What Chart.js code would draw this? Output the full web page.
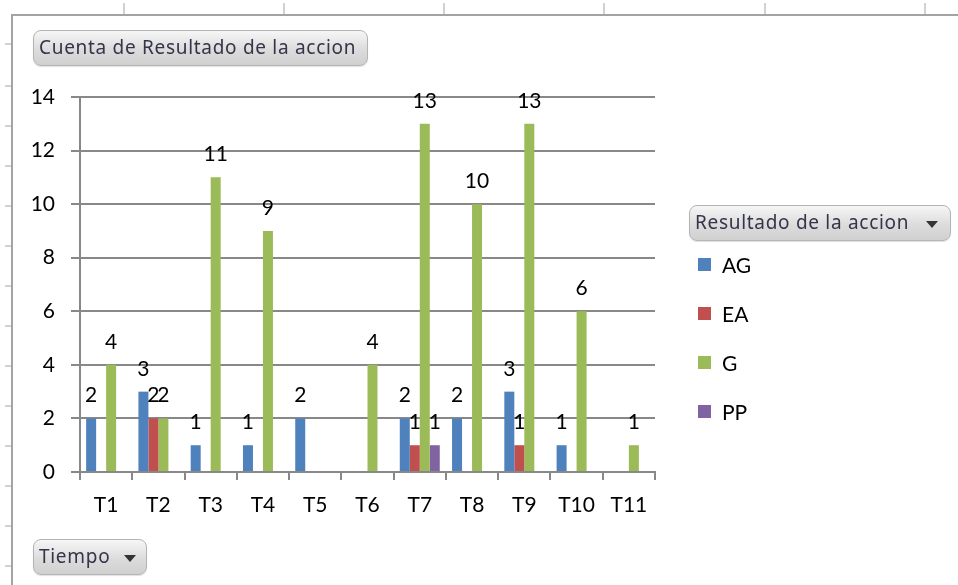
<!DOCTYPE html>
<html>
<head>
<meta charset="utf-8">
<script src="https://cdn.jsdelivr.net/npm/chart.js@4/dist/chart.umd.min.js"></script>
<style>
  html, body { margin: 0; padding: 0; background: #fff; }
  body { width: 958px; height: 585px; position: relative; overflow: hidden; }
  #chart { position: absolute; left: 0; top: 0; }
  .frame { position: absolute; left: 11px; top: 14px; width: 960px; height: 600px;
           border-left: 2px solid #a3a3a3; border-top: 2px solid #a3a3a3; }
  .cellmark { position: absolute; background: #d2d2d2; }
  .btn { position: absolute; box-sizing: border-box; border: 1px solid #b4b4b4; border-radius: 8px;
         background: linear-gradient(#f6f6f6, #dcdcdc 55%, #d0d0d0);
         font-family: "Noto Sans", sans-serif; font-size: 19px; letter-spacing: 0.7px; color: #34344a;
         white-space: nowrap; line-height: 33px; padding-left: 5px;
         box-shadow: 0 1px 1px rgba(0,0,0,0.12); }
  .arrow { position: absolute; width: 0; height: 0; top: 15px;
           border-left: 6px solid transparent; border-right: 6px solid transparent; border-top: 7px solid #333; }
  .leg { position: absolute; left: 698px; font-family: Lato, sans-serif; font-size: 21px; color: #000; }
  .leg span.box { position: absolute; left: 0; width: 13px; height: 13px; }
  .leg span.txt { position: absolute; left: 24px; line-height: 20px; white-space: nowrap; }
</style>
</head>
<body>
<div class="frame"></div>
<canvas id="chart" width="958" height="585"></canvas>
<div class="btn" style="left:33px; top:30px; width:335px; height:36px;">Cuenta de Resultado de la accion</div>
<div class="btn" style="left:689px; top:205px; width:262px; height:36px;">Resultado de la accion<div class="arrow" style="left:236px;"></div></div>
<div class="btn" style="left:33px; top:539px; width:114px; height:36px;">Tiempo<div class="arrow" style="left:90px;"></div></div>
<div id="legend"></div>
<script>
// Datos del gráfico dinámico (conteo por tiempo)
const categorias = ['T1', 'T2', 'T3', 'T4', 'T5', 'T6', 'T7', 'T8', 'T9', 'T10', 'T11'];
const series = ['AG', 'EA', 'G', 'PP'];
const valoresAG = [2, 3, 1, 1, 2, null, 2, 2, 3, 1, null];
const valoresEA = [null, 2, null, null, null, null, 1, null, 1, null, null];
const valoresG  = [4, 2, 11, 9, null, 4, 13, 10, 13, 6, 1];
const valoresPP = [null, null, null, null, null, null, 1, null, null, null, null];
const colores = ['#4f81bd', '#c0504d', '#9bbb59', '#8064a2'];
const ticksY = [0, 2, 4, 6, 8, 10, 12, 14];

document.addEventListener('DOMContentLoaded', function () {
  // Marcas de las celdas de Excel alrededor del gráfico
  const colX = [123, 283, 443, 603, 764, 924];
  colX.forEach(function (x) {
    const d = document.createElement('div');
    d.className = 'cellmark';
    d.style.cssText = 'left:' + x + 'px; top:3px; width:2px; height:11px;';
    document.body.appendChild(d);
  });
  const filasY = [43];
  for (let y = 85; y < 585; y += 40) filasY.push(y);
  filasY.forEach(function (y) {
    const d = document.createElement('div');
    d.className = 'cellmark';
    d.style.cssText = 'left:5px; top:' + y + 'px; width:6px; height:2px;';
    document.body.appendChild(d);
  });

  // Leyenda en HTML
  const legend = document.getElementById('legend');
  series.forEach(function (nombre, i) {
    const item = document.createElement('div');
    item.className = 'leg';
    item.style.top = (258 + i * 49) + 'px';
    item.innerHTML = '<span class="box" style="background:' + colores[i] + '"></span>' +
      '<span class="txt" style="top:-3px">' + nombre + '</span>';
    legend.appendChild(item);
  });

  const valores = [valoresAG, valoresEA, valoresG, valoresPP];
  const fuente = { family: 'Lato', size: 21 };

  // Etiquetas de datos encima de cada barra
  const etiquetas = {
    id: 'etiquetas',
    afterDatasetsDraw(chart) {
      const ctx = chart.ctx;
      ctx.save();
      ctx.font = '21px Lato';
      ctx.fillStyle = '#000';
      ctx.textAlign = 'center';
      ctx.textBaseline = 'alphabetic';
      chart.data.datasets.forEach(function (ds, i) {
        chart.getDatasetMeta(i).data.forEach(function (bar, j) {
          const v = ds.data[j];
          if (v == null) return;
          ctx.fillText(String(v), bar.x, bar.y - 16);
        });
      });
      ctx.restore();
    }
  };

  new Chart(document.getElementById('chart'), {
    type: 'bar',
    data: {
      labels: categorias,
      datasets: series.map(function (nombre, i) {
        return {
          label: nombre,
          data: valores[i],
          backgroundColor: colores[i],
          borderWidth: 0,
          categoryPercentage: 0.765,
          barPercentage: 1.0
        };
      })
    },
    options: {
      responsive: false,
      animation: false,
      devicePixelRatio: 1,
      layout: { padding: { top: 97, right: 303, bottom: 63, left: 30 } },
      plugins: { legend: { display: false }, tooltip: { enabled: false } },
      scales: {
        x: {
          grid: { drawOnChartArea: false, drawTicks: true, tickLength: 8, color: '#888', lineWidth: 2, offset: true },
          border: { color: '#888', width: 2 },
          ticks: { font: fuente, color: '#000', padding: 13 },
          afterFit: function (s) { s.height = 50; }
        },
        y: {
          min: 0,
          max: 14,
          afterBuildTicks: function (s) { s.ticks = ticksY.map(function (v) { return { value: v }; }); },
          grid: { color: '#888', lineWidth: 2, tickLength: 9 },
          border: { color: '#888', width: 2 },
          ticks: { font: fuente, color: '#000', padding: 16 },
          afterFit: function (s) { s.width = 50; }
        }
      }
    },
    plugins: [etiquetas]
  });
});
</script>
</body>
</html>
